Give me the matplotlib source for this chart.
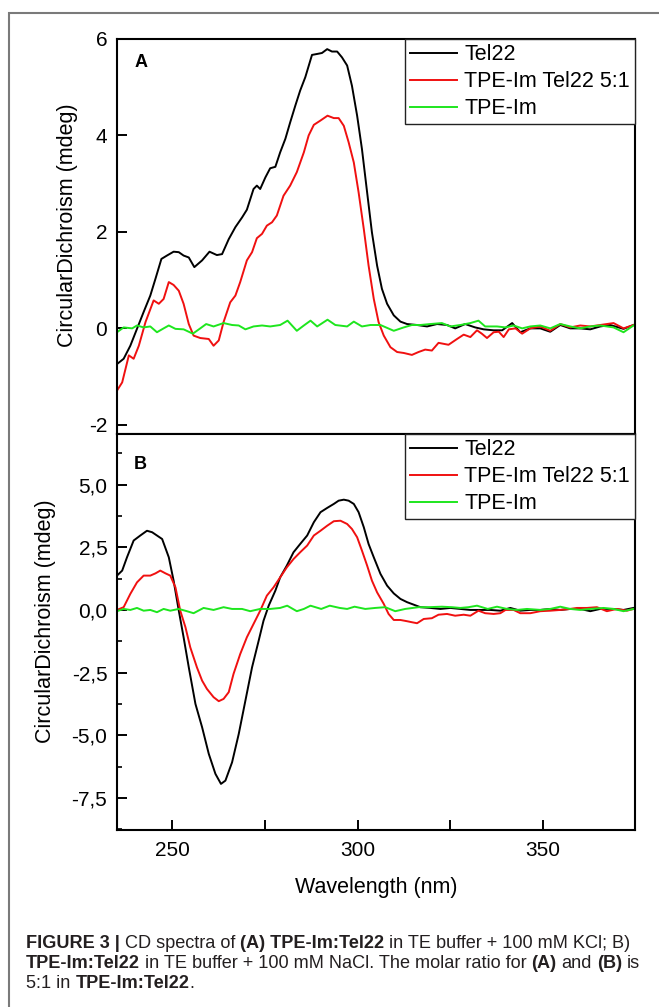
import matplotlib
matplotlib.use("Agg")
import matplotlib.pyplot as plt
from matplotlib.patches import Rectangle
from matplotlib.ticker import MultipleLocator, FuncFormatter

plt.rcParams['font.family'] = ['Liberation Sans', 'DejaVu Sans']
plt.rcParams['axes.unicode_minus'] = False

# ---- panel A (100 mM KCl) ----
wl_a_tel22 = [235, 236.8, 238.6, 240.4, 242.2, 244, 245.4, 247, 248.5, 250.3, 251.7, 253, 254.4, 255.9,
              258, 260, 262, 263.4, 265.2, 267, 268.8, 270.1, 271.9, 272.8, 273.7, 275.1, 276.4, 277.8,
              279.1, 280.5, 281.8, 283.2, 284.5, 285.9, 287.7, 289.1, 290.4, 291.8, 293.1, 294.5, 295.8,
              297.2, 298.5, 299.9, 301.2, 302.6, 303.9, 305.3, 306.6, 308, 309.8, 311.6, 313.4, 316.1,
              318.8, 321.5, 324.2, 326.4, 329.1, 331.8, 334.1, 336.8, 339.1, 341.8, 344, 346.7, 349.4,
              352.1, 354.8, 357.5, 360.2, 362.9, 365.6, 368.3, 371.9, 374.6]
cd_a_tel22 = [-0.74, -0.63, -0.36, -0.01, 0.34, 0.68, 1.03, 1.44, 1.51, 1.59, 1.58, 1.51, 1.47, 1.27,
              1.41, 1.59, 1.52, 1.54, 1.85, 2.10, 2.30, 2.46, 2.89, 2.96, 2.89, 3.13, 3.32, 3.35,
              3.65, 3.93, 4.27, 4.62, 4.93, 5.21, 5.67, 5.69, 5.71, 5.79, 5.74, 5.74, 5.62,
              5.45, 5.03, 4.41, 3.72, 2.82, 1.99, 1.30, 0.82, 0.51, 0.27, 0.14, 0.09, 0.07,
              0.04, 0.09, 0.07, 0.0, 0.09, 0.02, -0.02, -0.04, -0.04, 0.11, -0.08, 0.0, 0.0,
              -0.07, 0.07, 0.0, 0.0, -0.02, 0.04, 0.07, -0.01, 0.07]

wl_a_mix = [235, 236.4, 238.2, 239.5, 240.9, 242.7, 244.9, 246.3, 247.6, 249, 250.3, 251.7, 253, 254.4,
            255.7, 257.5, 259.8, 261.1, 262.5, 263.8, 265.6, 267, 268.3, 270.1, 271.5, 272.8, 274.2,
            275.5, 276.9, 278.2, 280, 281.8, 283.6, 285.5, 286.8, 288.2, 290, 291.9, 293.6, 294.9,
            296.3, 297.6, 299, 300.3, 301.7, 303, 304.4, 305.7, 307.1, 308.9, 310.7, 312.5, 314.7,
            316.5, 318.3, 320.1, 321.9, 324.6, 326.9, 328.7, 330.5, 332.3, 333.6, 335, 336.8, 338.2,
            339.5, 340.9, 342.7, 344.5, 346.7, 349.4, 352.1, 354.8, 357.5, 360.2, 362.9, 365.6,
            369.2, 371.9, 374.6]
cd_a_mix = [-1.29, -1.12, -0.56, -0.63, -0.36, 0.13, 0.58, 0.51, 0.61, 0.96, 0.90, 0.78, 0.51, 0.09,
            -0.15, -0.20, -0.22, -0.36, -0.25, 0.13, 0.54, 0.68, 0.96, 1.41, 1.58, 1.87, 1.96,
            2.13, 2.20, 2.34, 2.75, 2.96, 3.24, 3.65, 4.00, 4.22, 4.31, 4.41, 4.36, 4.36,
            4.20, 3.86, 3.44, 2.82, 2.06, 1.30, 0.61, 0.13, -0.15, -0.39, -0.49, -0.51, -0.55,
            -0.49, -0.44, -0.46, -0.30, -0.34, -0.22, -0.13, -0.18, -0.04, -0.11, -0.20, -0.08, -0.07,
            -0.18, -0.02, 0.0, -0.11, 0.0, 0.04, -0.05, 0.09, 0.02, 0.06, 0.04, 0.07,
            0.11, 0.0, 0.07]

wl_a_tpe = [235, 236.8, 239.1, 240.4, 242.2, 244, 245.8, 247.6, 249, 250.8, 253, 255.5, 257.5, 259.1,
            261.1, 263.8, 266.1, 267.9, 269.7, 271.9, 274.2, 276.4, 279.1, 281.1, 283.6, 285.5, 287.3,
            289.1, 291.9, 294, 297.2, 299, 301.2, 303.5, 306.2, 309.8, 312.5, 314.7, 317, 319.7,
            322.8, 325.1, 327.8, 330.5, 332.7, 334.5, 337.7, 340, 342.2, 344.5, 346.7, 349.4, 352.1,
            354.8, 357.5, 360.2, 362.9, 365.6, 369.2, 371.9, 374.6]
cd_a_tpe = [-0.08, 0.02, 0.0, 0.06, 0.02, 0.04, -0.08, 0.0, 0.06, -0.01, -0.02, -0.11, 0.0, 0.09,
            0.04, 0.11, 0.07, 0.06, -0.02, 0.04, 0.06, 0.04, 0.07, 0.16, -0.05, 0.06, 0.16,
            0.04, 0.18, 0.07, 0.04, 0.14, 0.04, 0.07, 0.07, -0.05, 0.02, 0.07, 0.07, 0.09,
            0.11, 0.04, 0.07, 0.11, 0.16, 0.04, 0.04, 0.02, 0.06, 0.0, 0.04, 0.06, 0.0,
            0.09, 0.04, 0.0, 0.04, 0.06, 0.02, -0.08, 0.06]

# ---- panel B (100 mM NaCl) ----
wl_b_tel22 = [235, 236.4, 237.7, 239.5, 241.3, 243.1, 244.5, 245.8, 247.2, 249, 250.3, 251.7, 253, 254.4,
              256.2, 258, 259.8, 261.6, 263.1, 264.3, 266.1, 267.9, 269.7, 271.5, 273.3, 274.6, 276,
              277.8, 279.1, 280.9, 282.7, 284.5, 286.4, 288.2, 290, 291.8, 293.6, 294.9, 296.3, 297.6,
              299, 300.3, 301.7, 303, 304.4, 306.2, 308, 309.8, 311.6, 313.4, 315.2, 317, 319.7,
              322.4, 325.1, 327.8, 330.5, 333.2, 335.9, 338.6, 341.3, 344, 346.7, 349.4, 352.1, 354.8,
              357.5, 360.2, 362.9, 365.6, 369.2, 371.9, 374.6]
cd_b_tel22 = [1.37, 1.57, 2.10, 2.77, 2.97, 3.16, 3.10, 2.97, 2.83, 2.10, 1.17, -0.03, -1.09, -2.29,
              -3.75, -4.68, -5.74, -6.54, -6.94, -6.81, -6.08, -4.95, -3.62, -2.29, -1.22, -0.43, 0.17,
              0.77, 1.30, 1.77, 2.30, 2.63, 2.97, 3.50, 3.90, 4.07, 4.23, 4.36, 4.40, 4.36,
              4.23, 3.90, 3.30, 2.63, 2.10, 1.44, 0.97, 0.66, 0.44, 0.31, 0.21, 0.11, 0.08,
              0.04, 0.08, 0.04, 0.0, 0.0, 0.0, -0.03, 0.08, -0.03, 0.0, 0.0, 0.04, 0.0,
              0.04, 0.04, -0.05, 0.04, 0.04, 0.0, 0.08]

wl_b_mix = [235, 236.8, 238.6, 240.4, 242.2, 244, 245.4, 246.7, 248.1, 249.4, 250.8, 252.1, 253.5, 254.8,
            256.6, 258, 259.3, 261.1, 262.5, 263.8, 265.2, 266.5, 268.3, 270.1, 271.9, 273.7, 275.5,
            277.3, 279.1, 280.9, 282.7, 284.5, 286.4, 288.2, 290, 291.8, 293.6, 295.4, 297.2, 298.5,
            299.9, 301.2, 302.6, 303.9, 305.3, 307.1, 308.4, 309.8, 311.6, 313.4, 314.7, 316.1, 317.9,
            320.1, 321.9, 324.2, 326.4, 328.7, 330.5, 332.7, 334.5, 336.8, 338.6, 340, 342.2, 344,
            346.7, 349.4, 352.1, 354.8, 357.5, 359.3, 362, 364.7, 367.4, 370.1, 372.8, 374.6]
cd_b_mix = [0.0, 0.11, 0.64, 1.10, 1.37, 1.37, 1.46, 1.57, 1.46, 1.37, 0.90, -0.03, -0.69, -1.49,
            -2.29, -2.82, -3.15, -3.48, -3.64, -3.55, -3.28, -2.55, -1.76, -1.09, -0.56, -0.03, 0.57,
            0.90, 1.30, 1.70, 2.03, 2.30, 2.57, 2.97, 3.16, 3.36, 3.54, 3.56, 3.43, 3.23,
            2.90, 2.37, 1.77, 1.17, 0.70, 0.24, -0.16, -0.40, -0.40, -0.45, -0.49, -0.53, -0.36,
            -0.33, -0.19, -0.16, -0.23, -0.19, -0.23, -0.03, -0.13, -0.16, -0.13, 0.0, 0.0, -0.13,
            -0.13, -0.05, -0.03, 0.0, 0.04, 0.08, 0.08, 0.11, -0.05, 0.04, -0.03, 0.04]

wl_b_tpe = [235, 236.8, 238.6, 240.4, 242.2, 244, 245.8, 247.6, 249.4, 251.7, 253.9, 255.7, 258.4, 261.1,
            263.8, 266.1, 268.8, 271, 273.7, 276.4, 279.1, 281, 283.6, 285.5, 287.3, 290.2, 292.5,
            295.2, 297.2, 299.2, 302.1, 304.8, 307.5, 310.2, 312.9, 316.5, 319.2, 322.8, 325.5, 327.8,
            330, 332.3, 335.2, 337.7, 340.4, 343.1, 345.8, 349.4, 352.1, 354.8, 357.5, 360.2, 362.9,
            366.5, 369.2, 371.9, 374.6]
cd_b_tpe = [-0.05, 0.04, 0.0, 0.08, -0.03, 0.0, -0.09, 0.04, -0.03, 0.04, -0.05, -0.13, 0.08, 0.0,
            0.11, 0.04, 0.04, -0.05, 0.04, 0.04, 0.08, 0.17, -0.05, 0.04, 0.17, 0.04, 0.17,
            0.08, 0.04, 0.13, 0.04, 0.08, 0.11, -0.05, 0.04, 0.11, 0.11, 0.13, 0.11, 0.08,
            0.11, 0.17, 0.04, 0.13, 0.04, 0.0, 0.04, 0.0, 0.04, 0.13, 0.04, 0.0, 0.04,
            0.08, 0.04, -0.05, 0.04]

labels = ['Tel22', 'TPE-Im Tel22 5:1', 'TPE-Im']
colors = ['black', '#f01010', '#1ee61e']

W, H = 659, 1007
fig = plt.figure(figsize=(W / 100, H / 100), dpi=100)
ax_a = fig.add_axes([117 / W, 1 - 434 / H, 518 / W, 395 / H])
ax_b = fig.add_axes([117 / W, 1 - 830 / H, 518 / W, 396 / H])

panels = [
    (ax_a, [(wl_a_tel22, cd_a_tel22), (wl_a_mix, cd_a_mix), (wl_a_tpe, cd_a_tpe)], 'A', 0.94),
    (ax_b, [(wl_b_tel22, cd_b_tel22), (wl_b_mix, cd_b_mix), (wl_b_tpe, cd_b_tpe)], 'B', 0.923),
]
for ax, series, letter, ly in panels:
    for (x, y), lab, c in zip(series, labels, colors):
        ax.plot(x, y, color=c, lw=1.4, label=lab)
    ax.set_xlim(235, 375)
    for sp in ax.spines.values():
        sp.set_linewidth(1.5)
    ax.tick_params(which='major', direction='in', length=7, width=1.4, labelsize=15, pad=7)
    ax.tick_params(which='minor', direction='in', length=3.8, width=1.2)
    leg = ax.legend(loc='upper right', bbox_to_anchor=(1, 1), borderaxespad=0, fontsize=15.5,
                    fancybox=False, framealpha=1, edgecolor='#222222', handlelength=2.2,
                    handletextpad=0.32, labelspacing=0.28, borderpad=0.24)
    leg.get_frame().set_linewidth(1.0)
    ax.text(0.033, ly, letter, transform=ax.transAxes,
            fontsize=13, fontweight='bold', ha='left', va='center')

ax_a.set_ylim(-2.19, 6.0)
ax_a.yaxis.set_major_locator(MultipleLocator(2))
ax_a.tick_params(axis='x', which='both', bottom=False, labelbottom=False)

ax_b.set_ylim(-8.78, 7.02)
ax_b.yaxis.set_major_locator(MultipleLocator(2.5))
ax_b.yaxis.set_minor_locator(MultipleLocator(1.25))
ax_b.yaxis.set_major_formatter(FuncFormatter(lambda v, p: f'{v:.1f}'.replace('.', ',')))
ax_b.xaxis.set_major_locator(MultipleLocator(50))
ax_b.xaxis.set_minor_locator(MultipleLocator(25))
ax_b.tick_params(axis='x', which='minor', length=7, width=1.4)
ax_b.tick_params(axis='x', which='major', pad=8)

fig.text(67 / W, 1 - 225 / H, 'CircularDichroism (mdeg)', rotation=90, ha='center', va='center', fontsize=15.5)
fig.text(46 / W, 1 - 621 / H, 'CircularDichroism (mdeg)', rotation=90, ha='center', va='center', fontsize=15.5)
fig.text(376 / W, 1 - 887 / H, 'Wavelength (nm)', ha='center', va='center', fontsize=15.5)

# outer frame, open past the right and bottom edges
fig.add_artist(Rectangle((8.5 / W, -0.05), 1.2, 1 - 13 / H + 0.05, transform=fig.transFigure,
                         fill=False, edgecolor='#7a7a7a', lw=1.5))

# caption, bold runs placed one after another
cap_lines = [
    [('FIGURE 3 |', True, True), ('CD spectra of', False, True), ('(A) TPE-Im:Tel22', True, True),
     ('in TE buffer + 100 mM KCl; B)', False, True)],
    [('TPE-Im:Tel22', True, True), ('in TE buffer + 100 mM NaCl. The molar ratio for', False, True),
     ('(A)', True, True), ('and', False, True), ('(B)', True, True), ('is', False, True)],
    [('5:1 in', False, True), ('TPE-Im:Tel22', True, True), ('.', False, False)],
]
cap_y = [944, 964, 984]
cap_x0 = 26.0
renderer = fig.canvas.get_renderer()


def make_text(x, y, s, size, bold):
    return fig.text(x / W, 1 - y / H, s, fontsize=size, fontweight='bold' if bold else 'normal',
                    color='#231f20', ha='left', va='center')


def width_of(s, size, bold):
    t = make_text(0, 0, s, size, bold)
    w = t.get_window_extent(renderer).width
    t.remove()
    return w


def draw_line(runs, y, size, draw=True):
    gap = width_of('x x', size, False) - width_of('xx', size, False)
    x = cap_x0
    for i, (s, bold, space) in enumerate(runs):
        if i > 0 and space:
            x += gap
        t = make_text(x, y, s, size, bold)
        x += t.get_window_extent(renderer).width
        if not draw:
            t.remove()
    return x - cap_x0


w10 = draw_line(cap_lines[0], cap_y[0], 10, draw=False)
cap_size = 10 * 606 / w10
for runs, y in zip(cap_lines, cap_y):
    draw_line(runs, y, cap_size)

fig.savefig('out.png', dpi=100)
